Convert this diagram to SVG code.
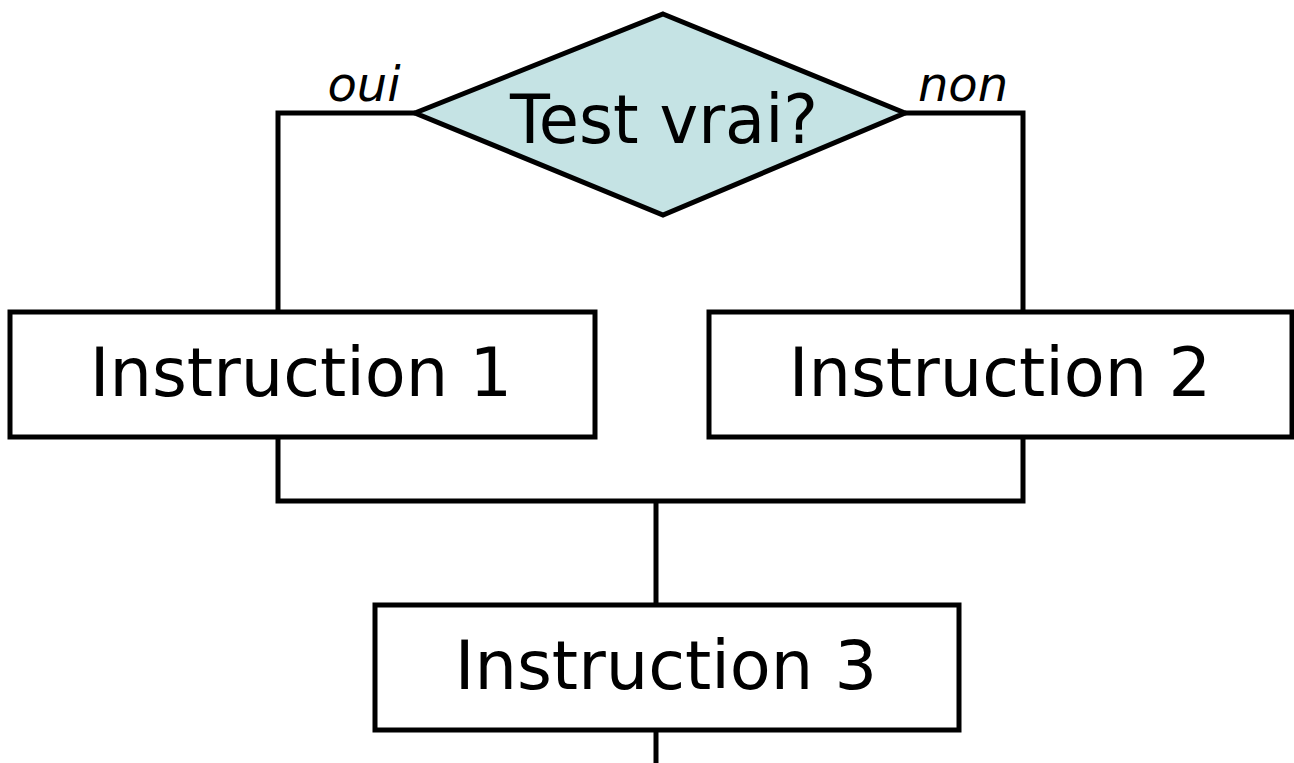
<svg xmlns="http://www.w3.org/2000/svg" width="1294" height="763" viewBox="0 0 1294 763">
<style>
.box{fill:#ffffff;stroke:#000;stroke-width:5}
.dia{fill:#c5e3e4;stroke:#000;stroke-width:5;stroke-linejoin:miter}
.conn{fill:none;stroke:#000;stroke-width:5}
.lbl{font-family:"DejaVu Sans",sans-serif;font-size:67px;text-anchor:middle;fill:#000}
.yn{font-family:"DejaVu Sans",sans-serif;font-style:italic;font-size:48px;text-anchor:middle;fill:#000}
</style>
<rect width="1294" height="763" fill="#fff"/>
<g id="connectors">
<polyline class="conn" points="415,113 278,113 278,312"/>
<polyline class="conn" points="905,113 1023,113 1023,312"/>
<polyline class="conn" points="278,437 278,501 1023,501 1023,437"/>
<line class="conn" x1="656" y1="501" x2="656" y2="605"/>
<line class="conn" x1="656" y1="730" x2="656" y2="763"/>
<text class="yn" x="364" y="101">oui</text>
<text class="yn" x="963" y="101">non</text>
</g>
<g id="test">
<polygon class="dia" points="663,14 905,113 663,215 415,113"/>
<text class="lbl" x="664" y="143" textLength="308" lengthAdjust="spacingAndGlyphs">Test vrai?</text>
</g>
<g id="instr1">
<rect class="box" x="10" y="312" width="585" height="125"/>
<text class="lbl" x="301" y="396">Instruction 1</text>
</g>
<g id="instr2">
<rect class="box" x="709" y="312" width="583" height="125"/>
<text class="lbl" x="1000" y="396">Instruction 2</text>
</g>
<g id="instr3">
<rect class="box" x="375" y="605" width="584" height="125"/>
<text class="lbl" x="666" y="689">Instruction 3</text>
</g>
</svg>
